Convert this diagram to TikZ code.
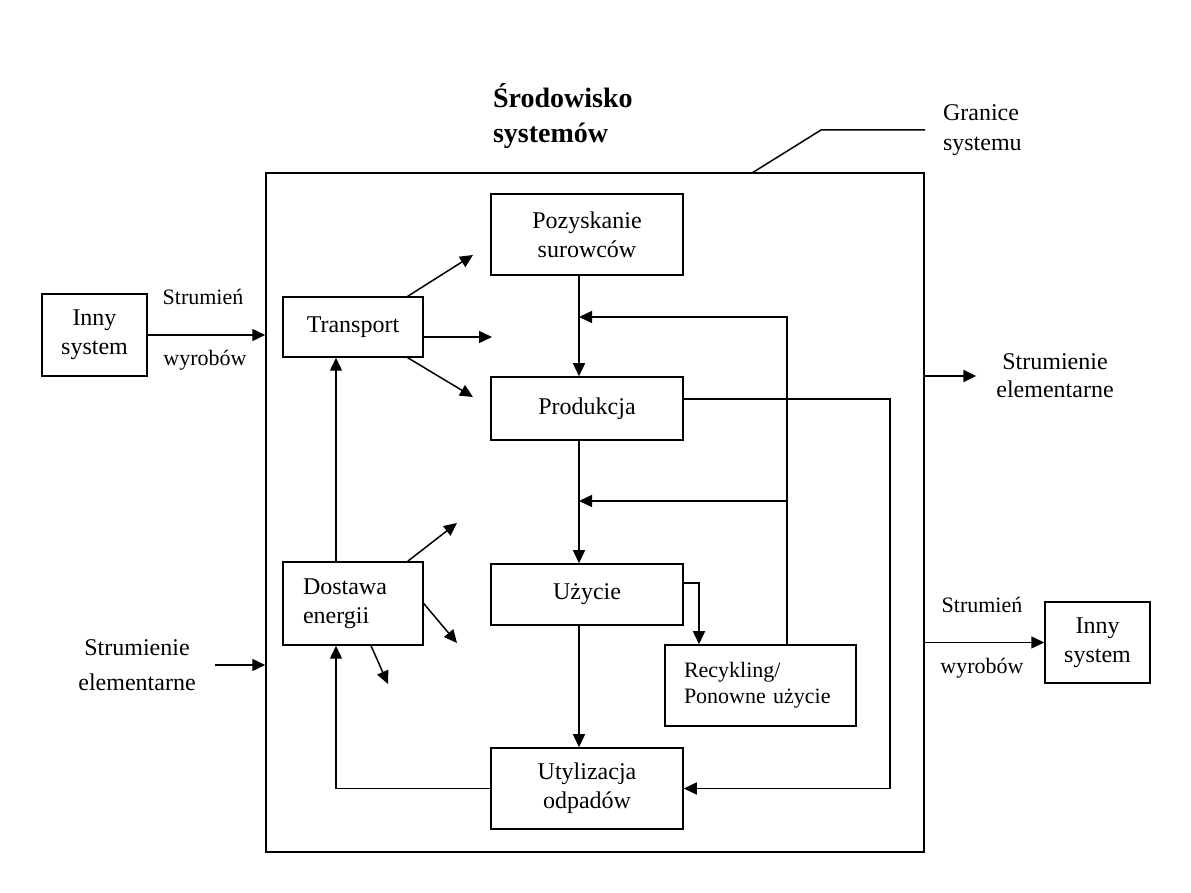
\documentclass[tikz,border=0pt]{standalone}
\usepackage{fontspec}
\setmainfont{Liberation Serif}
\usetikzlibrary{arrows.meta}

\begin{document}
\begin{tikzpicture}[
  x=0.5pt, y=-0.5pt,
  font=\fontsize{12}{14.5}\selectfont,
  box/.style={
    draw,
    line width=0.75pt,
    align=center,
    inner sep=2pt
  },
  label/.style={align=center, inner sep=0.3333em},
  small/.style={font=\fontsize{11}{13}\selectfont},
  arrow/.style={-{Triangle[length=6.5pt,width=6pt]}, line width=0.75pt},
  line/.style={line width=0.75pt}
]
\useasboundingbox (0,0) rectangle (1191,893);

% system boundary
\node (sys) [box, minimum width=329pt, minimum height=339.5pt] at (595,512.5) {};

% boxes inside
\node (pozysk) [box, minimum width=96pt, minimum height=40.5pt] at (587,234.5) {Pozyskanie\\surowców};
\node (produkcja) [box, minimum width=96pt, minimum height=31.5pt] at (587,408.5) {Produkcja};
\node (uzycie) [box, minimum width=96pt, minimum height=30.5pt] at (587,594.5) {Użycie};
\node (recykling) [box, minimum width=95.5pt, minimum height=40.5pt, text width=76.5pt, align=left, small] at (760.5,685.5) {Recykling/\\Ponowne użycie};
\node (utylizacja) [box, minimum width=96pt, minimum height=40.5pt] at (587,788.5) {Utylizacja\\odpadów};
\node (transport) [box, minimum width=70pt, minimum height=30pt] at (353,327) {Transport};
\node (dostawa) [box, minimum width=70pt, minimum height=41.5pt, text width=50pt, align=left] at (353,603.5) {Dostawa\\energii};

% other systems
\node (inny1) [box, minimum width=52.5pt, minimum height=41pt] at (94.5,335) {Inny\\system};
\node (inny2) [box, minimum width=52.5pt, minimum height=40.5pt] at (1097.5,642.5) {Inny\\system};

% labels
\node (title) [label, anchor=west, align=left, font=\fontsize{14}{17.5}\selectfont\bfseries] at (486,116) {Środowisko\\systemów};
\node (granice) [label, anchor=west, align=left, font=\fontsize{12}{15}\selectfont] at (936,130) {Granice\\systemu};
\node (str1) [label, small] at (203,297) {Strumień};
\node (wyr1) [label, small] at (205,360) {wyrobów};
\node (str2) [label, small] at (982,605) {Strumień};
\node (wyr2) [label, small] at (982,668) {wyrobów};
\node (elem1) [label, font=\fontsize{12}{17.5}\selectfont] at (137,665) {Strumienie\\elementarne};
\node (elem2) [label, font=\fontsize{12}{14}\selectfont] at (1055,376) {Strumienie\\elementarne};

% helper coordinates
\coordinate (col) at (579,0);
\coordinate (upx) at (336,0);
\coordinate (fb1) at (787,317);
\coordinate (fb2) at (787,501);
\coordinate (rt) at (890,399);
\coordinate (ur) at (699,583);
\coordinate (lead) at (821,130);
\coordinate (leadfoot) at (752,173);
\coordinate (t1) at (473,255);
\coordinate (t2) at (492,337);
\coordinate (t3) at (473,397);
\coordinate (d1) at (457,523);
\coordinate (d2) at (457,643);
\coordinate (d3) at (388,684);

% main chain
\draw[arrow] (pozysk.south -| col) -- (produkcja.north -| col);
\draw[arrow] (produkcja.south -| col) -- (uzycie.north -| col);
\draw[arrow] (uzycie.south -| col) -- (utylizacja.north -| col);
\draw[arrow] (ur -| uzycie.east) -| (recykling.north -| ur);

% feedback from recycling
\draw[arrow] (recykling.north -| fb1) -- (fb1) -- (fb1 -| col);
\draw[arrow] (fb2) -- (fb2 -| col);

% production waste
\draw[arrow] (rt -| produkcja.east) -- (rt) |- (utylizacja.east);

% energy
\draw[arrow] (utylizacja.west) -| (dostawa.south -| upx);
\draw[arrow] (dostawa.north -| upx) -- (transport.south -| upx);

% transport outputs
\draw[arrow] ([xshift=-8pt]transport.north east) -- (t1);
\draw[arrow] (transport.east |- t2) -- (t2);
\draw[arrow] ([xshift=-8pt]transport.south east) -- (t3);

% energy outputs
\draw[arrow] ([xshift=-8pt]dostawa.north east) -- (d1);
\draw[arrow] (dostawa.east) -- (d2);
\draw[arrow] ([xshift=9pt]dostawa.south) -- (d3);

% flows across the boundary
\draw[arrow] (inny1.east) -- (inny1 -| sys.west);
\draw[arrow] ([xshift=6pt]elem1.east) -- (elem1 -| sys.west);
\draw[arrow] (sys.east |- elem2) -- ([xshift=-6.5pt]elem2.west);
\draw[arrow] (sys.east |- inny2) -- (inny2.west);

% boundary label
\draw[line] (leadfoot) -- (lead) -- ([xshift=-5.5pt]granice.west);
\end{tikzpicture}
\end{document}
